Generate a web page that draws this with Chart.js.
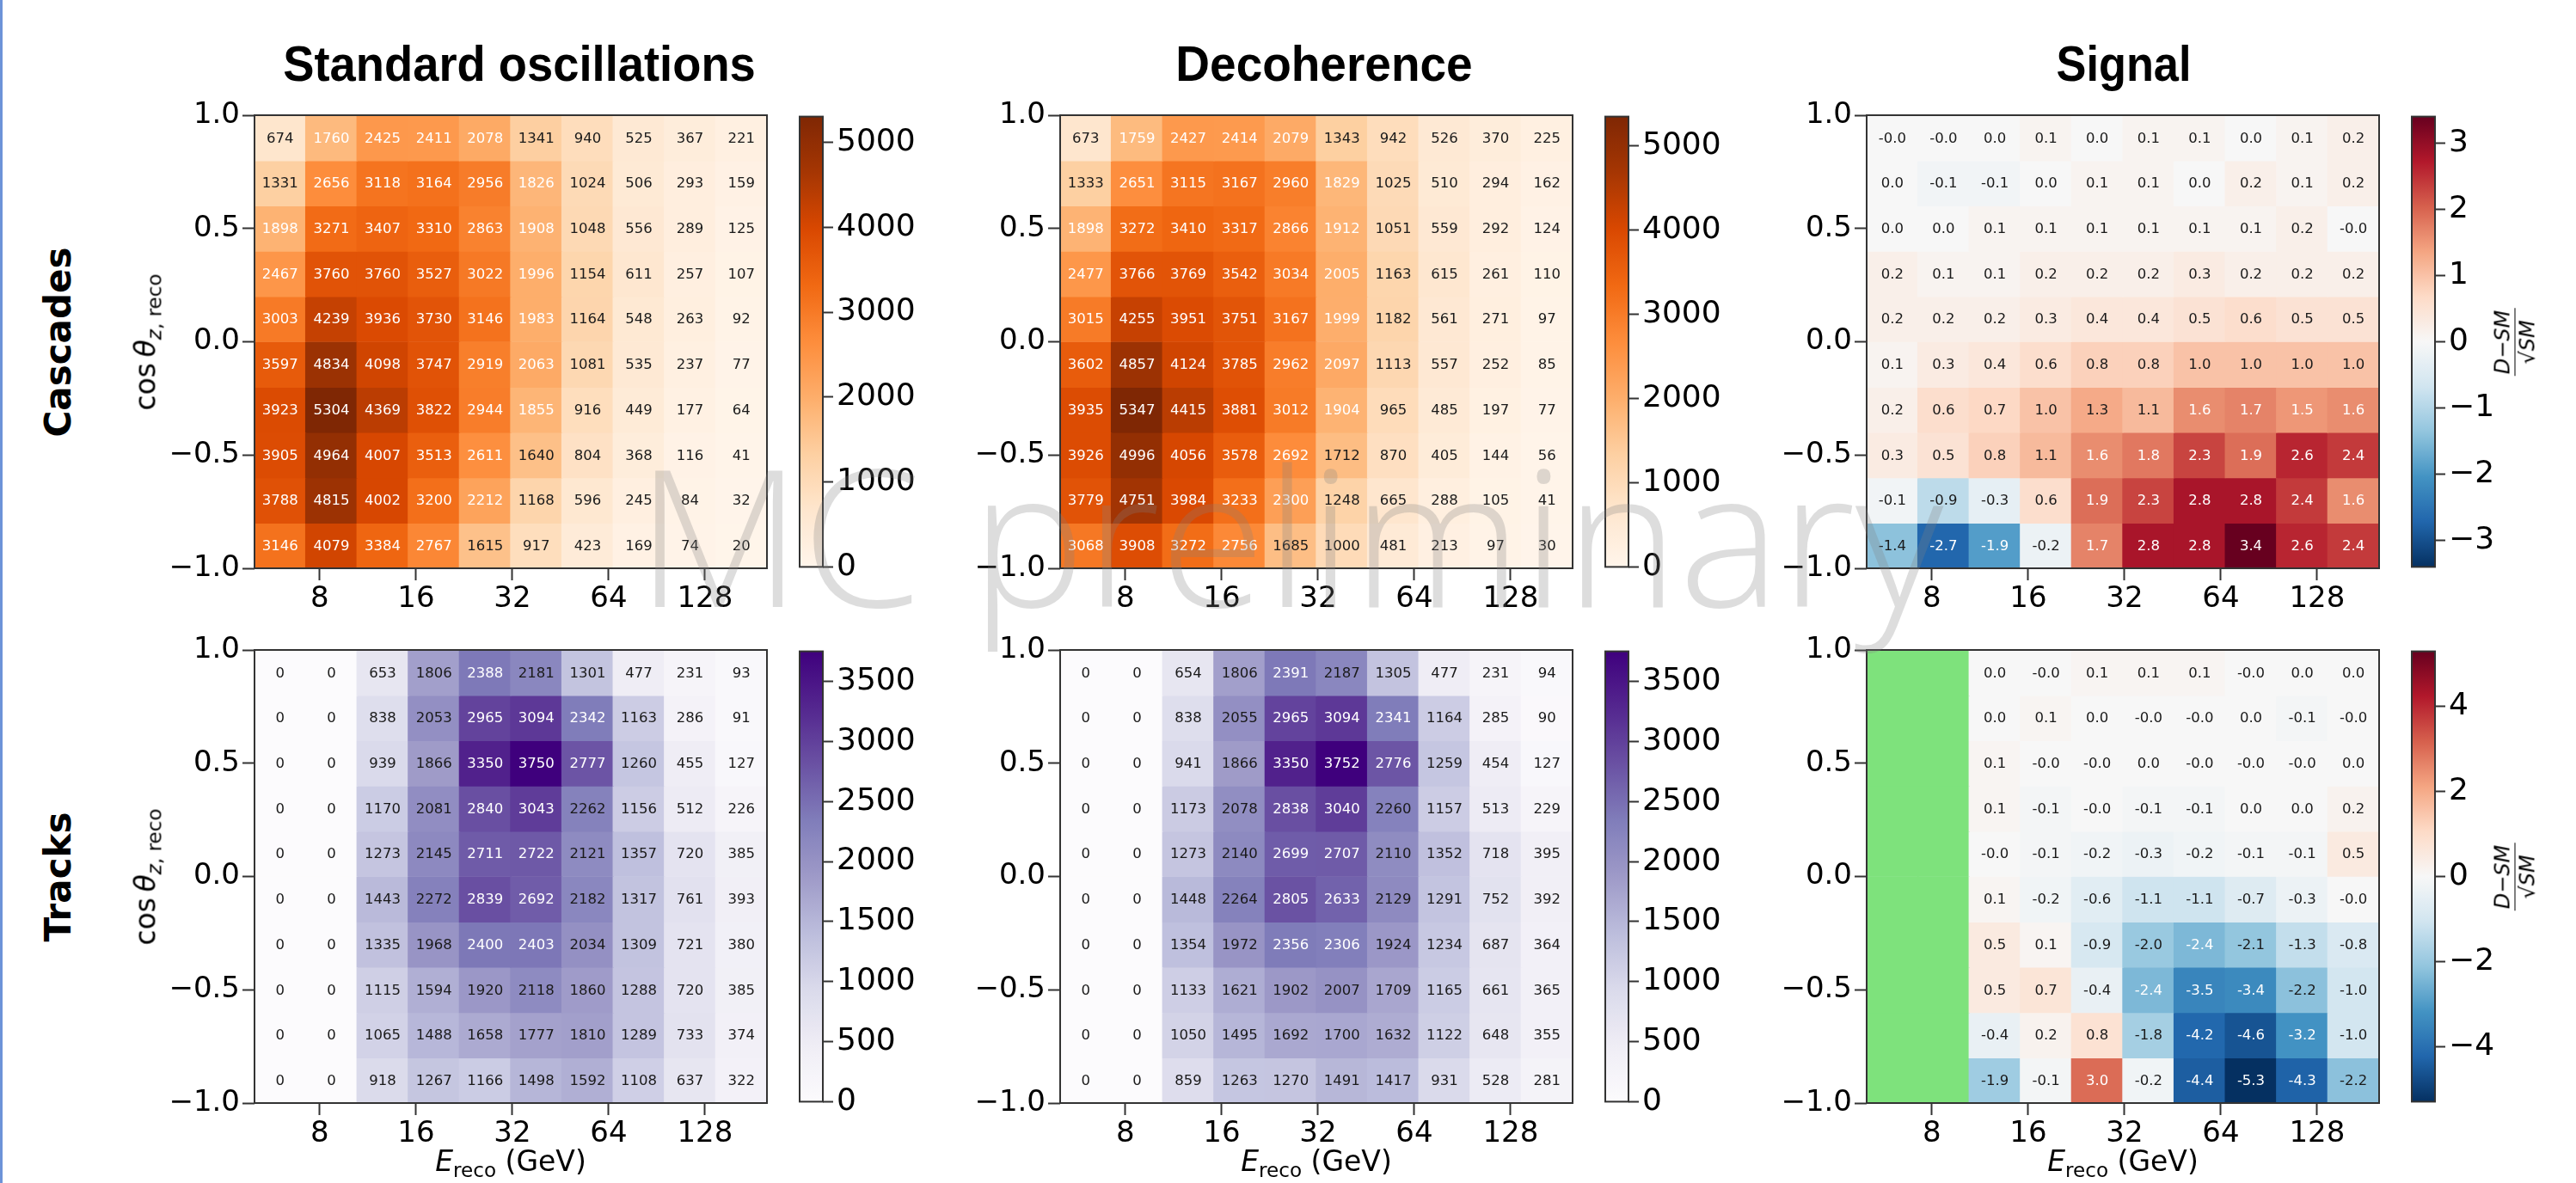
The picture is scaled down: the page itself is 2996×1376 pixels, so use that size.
<!DOCTYPE html>
<html>
<head>
<meta charset="utf-8">
<script src="https://cdn.jsdelivr.net/npm/chart.js@4.4.1/dist/chart.umd.min.js"></script>
<style>
html, body { margin: 0; padding: 0; background: #fff; }
#page { position: relative; width: 2996px; height: 1376px; overflow: hidden; background: #fff;
        font-family: "DejaVu Sans", sans-serif; color: #000; }
#page canvas { position: absolute; }
.lbl { position: absolute; white-space: nowrap; line-height: 1; }
.title { font-family: "Liberation Sans Narrow", "Liberation Sans", sans-serif; font-weight: bold; font-size: 58px; }
.rowname { font-family: "DejaVu Sans", sans-serif; font-weight: bold; font-size: 42px; }
.axlbl { font-size: 33px; }
.axlbl sub { font-size: 0.7em; vertical-align: -0.3em; }
.frac { display: inline-flex; flex-direction: column; align-items: center; font-size: 24px; }
.frac .num { border-bottom: 1.5px solid #000; padding: 0 2px 2px 2px; }
.frac .den { padding-top: 2px; }
#wm { font-family: "Open Sans", "Lato", sans-serif; font-weight: 300; font-size: 221px;
      color: rgba(128, 128, 128, 0.27); z-index: 10; pointer-events: none; }
#edge { position: absolute; left: 0; top: 0; width: 3px; height: 1376px; background: #6d93d8; }
</style>
</head>
<body>
<div id="page"><div id="edge"></div></div>
<script>
// binning (rows listed top to bottom, i.e. cos from +1 down to -1)
const energyEdges = [5.0, 7.23, 10.46, 15.13, 21.87, 31.62, 45.73, 66.13, 95.64, 138.3, 200.0];
const cosEdges = [1.0, 0.8, 0.6, 0.4, 0.2, 0.0, -0.2, -0.4, -0.6, -0.8, -1.0];
const energyTicks = [8, 16, 32, 64, 128];
const cosTicks = [-1.0, -0.5, 0.0, 0.5, 1.0];
const orangeTicks = [0, 1000, 2000, 3000, 4000, 5000];
const purpleTicks = [0, 500, 1000, 1500, 2000, 2500, 3000, 3500];
const signalTicksCascades = [-3, -2, -1, 0, 1, 2, 3];
const signalTicksTracks = [-4, -2, 0, 2, 4];

const cascadesSM = [
    [674, 1760, 2425, 2411, 2078, 1341, 940, 525, 367, 221],
    [1331, 2656, 3118, 3164, 2956, 1826, 1024, 506, 293, 159],
    [1898, 3271, 3407, 3310, 2863, 1908, 1048, 556, 289, 125],
    [2467, 3760, 3760, 3527, 3022, 1996, 1154, 611, 257, 107],
    [3003, 4239, 3936, 3730, 3146, 1983, 1164, 548, 263, 92],
    [3597, 4834, 4098, 3747, 2919, 2063, 1081, 535, 237, 77],
    [3923, 5304, 4369, 3822, 2944, 1855, 916, 449, 177, 64],
    [3905, 4964, 4007, 3513, 2611, 1640, 804, 368, 116, 41],
    [3788, 4815, 4002, 3200, 2212, 1168, 596, 245, 84, 32],
    [3146, 4079, 3384, 2767, 1615, 917, 423, 169, 74, 20],
];
const cascadesDeco = [
    [673, 1759, 2427, 2414, 2079, 1343, 942, 526, 370, 225],
    [1333, 2651, 3115, 3167, 2960, 1829, 1025, 510, 294, 162],
    [1898, 3272, 3410, 3317, 2866, 1912, 1051, 559, 292, 124],
    [2477, 3766, 3769, 3542, 3034, 2005, 1163, 615, 261, 110],
    [3015, 4255, 3951, 3751, 3167, 1999, 1182, 561, 271, 97],
    [3602, 4857, 4124, 3785, 2962, 2097, 1113, 557, 252, 85],
    [3935, 5347, 4415, 3881, 3012, 1904, 965, 485, 197, 77],
    [3926, 4996, 4056, 3578, 2692, 1712, 870, 405, 144, 56],
    [3779, 4751, 3984, 3233, 2300, 1248, 665, 288, 105, 41],
    [3068, 3908, 3272, 2756, 1685, 1000, 481, 213, 97, 30],
];
const cascadesSignal = [
    [-0.0, -0.0, 0.0, 0.1, 0.0, 0.1, 0.1, 0.0, 0.1, 0.2],
    [0.0, -0.1, -0.1, 0.0, 0.1, 0.1, 0.0, 0.2, 0.1, 0.2],
    [0.0, 0.0, 0.1, 0.1, 0.1, 0.1, 0.1, 0.1, 0.2, -0.0],
    [0.2, 0.1, 0.1, 0.2, 0.2, 0.2, 0.3, 0.2, 0.2, 0.2],
    [0.2, 0.2, 0.2, 0.3, 0.4, 0.4, 0.5, 0.6, 0.5, 0.5],
    [0.1, 0.3, 0.4, 0.6, 0.8, 0.8, 1.0, 1.0, 1.0, 1.0],
    [0.2, 0.6, 0.7, 1.0, 1.3, 1.1, 1.6, 1.7, 1.5, 1.6],
    [0.3, 0.5, 0.8, 1.1, 1.6, 1.8, 2.3, 1.9, 2.6, 2.4],
    [-0.1, -0.9, -0.3, 0.6, 1.9, 2.3, 2.8, 2.8, 2.4, 1.6],
    [-1.4, -2.7, -1.9, -0.2, 1.7, 2.8, 2.8, 3.4, 2.6, 2.4],
];
const tracksSM = [
    [0, 0, 653, 1806, 2388, 2181, 1301, 477, 231, 93],
    [0, 0, 838, 2053, 2965, 3094, 2342, 1163, 286, 91],
    [0, 0, 939, 1866, 3350, 3750, 2777, 1260, 455, 127],
    [0, 0, 1170, 2081, 2840, 3043, 2262, 1156, 512, 226],
    [0, 0, 1273, 2145, 2711, 2722, 2121, 1357, 720, 385],
    [0, 0, 1443, 2272, 2839, 2692, 2182, 1317, 761, 393],
    [0, 0, 1335, 1968, 2400, 2403, 2034, 1309, 721, 380],
    [0, 0, 1115, 1594, 1920, 2118, 1860, 1288, 720, 385],
    [0, 0, 1065, 1488, 1658, 1777, 1810, 1289, 733, 374],
    [0, 0, 918, 1267, 1166, 1498, 1592, 1108, 637, 322],
];
const tracksDeco = [
    [0, 0, 654, 1806, 2391, 2187, 1305, 477, 231, 94],
    [0, 0, 838, 2055, 2965, 3094, 2341, 1164, 285, 90],
    [0, 0, 941, 1866, 3350, 3752, 2776, 1259, 454, 127],
    [0, 0, 1173, 2078, 2838, 3040, 2260, 1157, 513, 229],
    [0, 0, 1273, 2140, 2699, 2707, 2110, 1352, 718, 395],
    [0, 0, 1448, 2264, 2805, 2633, 2129, 1291, 752, 392],
    [0, 0, 1354, 1972, 2356, 2306, 1924, 1234, 687, 364],
    [0, 0, 1133, 1621, 1902, 2007, 1709, 1165, 661, 365],
    [0, 0, 1050, 1495, 1692, 1700, 1632, 1122, 648, 355],
    [0, 0, 859, 1263, 1270, 1491, 1417, 931, 528, 281],
];
// null = masked bin (drawn green)
const tracksSignal = [
    [null, null, 0.0, -0.0, 0.1, 0.1, 0.1, -0.0, 0.0, 0.0],
    [null, null, 0.0, 0.1, 0.0, -0.0, -0.0, 0.0, -0.1, -0.0],
    [null, null, 0.1, -0.0, -0.0, 0.0, -0.0, -0.0, -0.0, 0.0],
    [null, null, 0.1, -0.1, -0.0, -0.1, -0.1, 0.0, 0.0, 0.2],
    [null, null, -0.0, -0.1, -0.2, -0.3, -0.2, -0.1, -0.1, 0.5],
    [null, null, 0.1, -0.2, -0.6, -1.1, -1.1, -0.7, -0.3, -0.0],
    [null, null, 0.5, 0.1, -0.9, -2.0, -2.4, -2.1, -1.3, -0.8],
    [null, null, 0.5, 0.7, -0.4, -2.4, -3.5, -3.4, -2.2, -1.0],
    [null, null, -0.4, 0.2, 0.8, -1.8, -4.2, -4.6, -3.2, -1.0],
    [null, null, -1.9, -0.1, 3.0, -0.2, -4.4, -5.3, -4.3, -2.2],
];

const FONT = "DejaVu Sans";
const MASK_GREEN = "#7ee27c";
const SPINE = "#333";

// layout (px)
const COL_X = [296, 1233, 2171];
const ROW_Y = [134, 756];
const MAP_W = 596, MAP_H = 527;
const CB_DX = 634, CB_W = 27;

Chart.defaults.font.family = FONT;
Chart.defaults.color = "#000";

const CMAPS = {
    Oranges: ["#fff5eb", "#fee6ce", "#fdd0a2", "#fdae6b", "#fd8d3c", "#f16913", "#d94801", "#a63603", "#7f2704"],
    Purples: ["#fcfbfd", "#efedf5", "#dadaeb", "#bcbddc", "#9e9ac8", "#807dba", "#6a51a3", "#54278f", "#3f007d"],
    RdBu_r:  ["#053061", "#2166ac", "#4393c3", "#92c5de", "#d1e5f0", "#f7f7f7", "#fddbc7", "#f4a582", "#d6604d", "#b2182b", "#67001f"],
};

function hexRgb(h) {
    return [1, 3, 5].map(i => parseInt(h.slice(i, i + 2), 16));
}

function cmapColor(name, t) {
    const stops = CMAPS[name];
    t = Math.min(1, Math.max(0, t));
    const n = stops.length - 1;
    const i = Math.min(Math.floor(t * n), n - 1);
    const f = t * n - i;
    const a = hexRgb(stops[i]), b = hexRgb(stops[i + 1]);
    const c = a.map((v, k) => Math.round(v + (b[k] - v) * f));
    return `rgb(${c[0]},${c[1]},${c[2]})`;
}

const energyCenters = energyEdges.slice(0, -1).map((e, i) => Math.sqrt(e * energyEdges[i + 1]));

function absMax(rows) {
    let m = 0;
    rows.forEach(r => r.forEach(v => { if (v != null) m = Math.max(m, Math.abs(v)); }));
    return m;
}

function fmtCount(v) { return String(v); }
function fmtSignal(v) {
    const neg = v < 0 || Object.is(v, -0);
    return (neg ? "-" : "") + Math.abs(v).toFixed(1);
}
function minusTick(v, digits) {
    const s = digits ? Math.abs(v).toFixed(digits) : String(Math.abs(v));
    return (v < 0 ? "\u2212" : "") + s;
}

function countPanel(data, cmap, col, row, cbTicks, whiteFrac) {
    const vmax = absMax(data);
    return {
        data, cmap, col, row, cbTicks, vmin: 0, vmax,
        fmt: fmtCount,
        textColor: v => (v / vmax > whiteFrac ? "#ffffff" : "#1a1a1a"),
    };
}

function signalPanel(data, col, row, cbTicks) {
    const vmax = absMax(data);
    return {
        data, cmap: "RdBu_r", col, row, cbTicks, vmin: -vmax, vmax,
        fmt: fmtSignal,
        textColor: v => (Math.abs(v) / vmax > 0.43 ? "#ffffff" : "#1a1a1a"),
    };
}

const panels = [
    countPanel(cascadesSM, "Oranges", 0, 0, orangeTicks, 0.325),
    countPanel(cascadesDeco, "Oranges", 1, 0, orangeTicks, 0.325),
    signalPanel(cascadesSignal, 2, 0, signalTicksCascades),
    countPanel(tracksSM, "Purples", 0, 1, purpleTicks, 0.61),
    countPanel(tracksDeco, "Purples", 1, 1, purpleTicks, 0.61),
    signalPanel(tracksSignal, 2, 1, signalTicksTracks),
];

const page = document.getElementById("page");

function addCanvas(x, y, w, h) {
    const c = document.createElement("canvas");
    c.width = w; c.height = h;
    c.style.left = x + "px"; c.style.top = y + "px";
    c.style.width = w + "px"; c.style.height = h + "px";
    page.appendChild(c);
    return c;
}

const framePlugin = {
    id: "frame",
    afterDraw(chart) {
        const { ctx, chartArea: a } = chart;
        ctx.save();
        ctx.strokeStyle = SPINE;
        ctx.lineWidth = 2;
        ctx.strokeRect(a.left, a.top, a.right - a.left, a.bottom - a.top);
        ctx.restore();
    }
};

function cellTextPlugin(p) {
    return {
        id: "cellText",
        afterDatasetsDraw(chart) {
            const ctx = chart.ctx;
            ctx.save();
            ctx.font = `16.5px "${FONT}"`;
            ctx.textAlign = "center";
            ctx.textBaseline = "middle";
            p.data.forEach((row, r) => {
                const meta = chart.getDatasetMeta(r);
                row.forEach((v, j) => {
                    if (v == null) return;
                    const el = meta.data[j];
                    ctx.fillStyle = p.textColor(v);
                    ctx.fillText(p.fmt(v), el.x, (el.y + el.base) / 2 + 1);
                });
            });
            ctx.restore();
        }
    };
}

const tickGrid = (len) => ({
    display: true, drawOnChartArea: false, drawTicks: true,
    tickLength: len, tickWidth: 2, tickColor: SPINE, offset: false,
});

function makeHeatmap(p) {
    const L = COL_X[p.col], T = ROW_Y[p.row];
    const padL = 110, padT = 24, padR = 12, padB = 60;
    const cv = addCanvas(L - padL, T - padT, padL + MAP_W + padR, padT + MAP_H + padB);
    const norm = v => (v - p.vmin) / (p.vmax - p.vmin);

    const datasets = p.data.map((row, r) => ({
        data: row.map((v, j) => ({ x: energyCenters[j], y: [cosEdges[r + 1], cosEdges[r]] })),
        backgroundColor: row.map(v => v == null ? MASK_GREEN : cmapColor(p.cmap, norm(v))),
        borderWidth: 0,
        inflateAmount: 0.7,
        barPercentage: 1,
        categoryPercentage: 1,
        grouped: false,
    }));

    new Chart(cv, {
        type: "bar",
        data: { datasets },
        options: {
            responsive: false,
            animation: false,
            layout: { padding: { top: padT, right: padR, left: 0, bottom: 0 } },
            plugins: { legend: { display: false }, tooltip: { enabled: false } },
            scales: {
                x: {
                    type: "logarithmic",
                    offset: false,
                    min: energyEdges[0],
                    max: energyEdges[energyEdges.length - 1],
                    afterBuildTicks: s => { s.ticks = energyTicks.map(v => ({ value: v })); },
                    afterFit: s => { s.height = padB; },
                    grid: tickGrid(14),
                    border: { display: false },
                    ticks: {
                        font: { family: FONT, size: 34 }, color: "#000", padding: 2,
                        maxRotation: 0, autoSkip: false, callback: v => String(v),
                    },
                },
                y: {
                    type: "linear",
                    min: -1, max: 1,
                    afterBuildTicks: s => { s.ticks = cosTicks.map(v => ({ value: v })); },
                    afterFit: s => { s.width = padL; },
                    grid: tickGrid(14),
                    border: { display: false },
                    ticks: {
                        font: { family: FONT, size: 34 }, color: "#000", padding: 3,
                        callback: v => minusTick(v, 1),
                    },
                },
            },
        },
        plugins: [cellTextPlugin(p), framePlugin],
    });
}

function makeColorbar(p) {
    const L = COL_X[p.col] + CB_DX, T = ROW_Y[p.row];
    const padT = 24, padB = 24, padL = 2, axisW = 140;
    const cv = addCanvas(L - padL, T - padT, padL + CB_W + axisW, padT + MAP_H + padB);

    new Chart(cv, {
        type: "bar",
        data: {
            labels: ["cbar"],
            datasets: [{
                data: [[p.vmin, p.vmax]],
                backgroundColor: c => {
                    const a = c.chart.chartArea;
                    if (!a) return "transparent";
                    const g = c.chart.ctx.createLinearGradient(0, a.bottom, 0, a.top);
                    for (let k = 0; k <= 40; k++) g.addColorStop(k / 40, cmapColor(p.cmap, k / 40));
                    return g;
                },
                borderWidth: 0,
                barPercentage: 1,
                categoryPercentage: 1,
            }],
        },
        options: {
            responsive: false,
            animation: false,
            layout: { padding: { top: padT, bottom: padB, left: padL, right: 0 } },
            plugins: { legend: { display: false }, tooltip: { enabled: false } },
            scales: {
                x: { display: false },
                y: {
                    position: "right",
                    min: p.vmin, max: p.vmax,
                    afterBuildTicks: s => { s.ticks = p.cbTicks.map(v => ({ value: v })); },
                    afterFit: s => { s.width = axisW; },
                    grid: tickGrid(12),
                    border: { display: false },
                    ticks: {
                        font: { family: FONT, size: 36 }, color: "#000", padding: 4,
                        callback: v => minusTick(v, 0),
                    },
                },
            },
        },
        plugins: [framePlugin],
    });
}

panels.forEach(p => { makeHeatmap(p); makeColorbar(p); });

// text around the grid
function addLabel(html, cls, cx, cy, rotate, fitW) {
    const d = document.createElement("div");
    d.className = "lbl " + cls;
    d.innerHTML = html;
    d.style.left = cx + "px";
    d.style.top = cy + "px";
    page.appendChild(d);
    let sx = 1;
    if (fitW) sx = fitW / d.offsetWidth;
    d.style.transform = `translate(-50%, -50%)` + (rotate ? ` rotate(${rotate}deg)` : "") + (sx !== 1 ? ` scaleX(${sx})` : "");
    return d;
}

const titles = ["Standard oscillations", "Decoherence", "Signal"];
const titleX = [604, 1540, 2470];
const titleW = [550, 345, 157];
titles.forEach((t, i) => addLabel(t, "title", titleX[i], 74, 0, titleW[i]));

const rowNames = ["Cascades", "Tracks"];
rowNames.forEach((t, r) => addLabel(t, "rowname", 68, ROW_Y[r] + MAP_H / 2, -90));

const cosLabel = 'cos&thinsp;<i>\u03b8</i><sub><i>z</i>, reco</sub>';
ROW_Y.forEach(y => addLabel(cosLabel, "axlbl", 172, y + MAP_H / 2, -90));

const eLabel = '<i>E</i><sub>reco</sub> (GeV)';
COL_X.forEach(x => addLabel(eLabel, "axlbl", x + MAP_W / 2, 1354, 0));

const fracLabel = '<span class="frac"><span class="num"><i>D</i>\u2212<i>SM</i></span><span class="den">\u221a<i>SM</i></span></span>';
ROW_Y.forEach(y => addLabel(fracLabel, "", 2925, y + MAP_H / 2, -90));

// watermark
const WM_W = 1520;
const wm = addLabel("MC preliminary", "", 1500, 620, 0, 0);
wm.id = "wm";
wm.style.transform = "none";
const wmW = wm.offsetWidth;
wm.style.transform = `translate(-50%, -50%) scaleX(${WM_W / wmW})`;
</script>
</body>
</html>
